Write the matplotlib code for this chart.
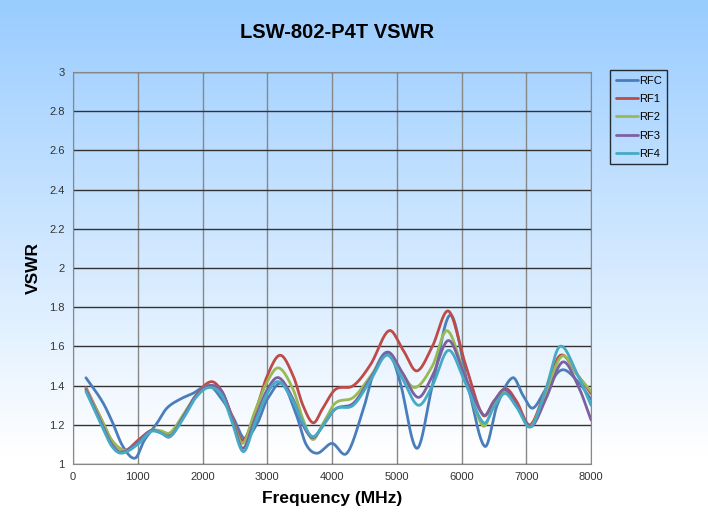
import numpy as np
import matplotlib
matplotlib.use('Agg')
import matplotlib.pyplot as plt

# значения (частота МГц, КСВН)
rfc_f = [200, 450, 600, 770, 960, 1100, 1300, 1450, 1650, 1850, 2100, 2300, 2470, 2650, 2850, 3000,
         3230, 3450, 3600, 3770, 4000, 4230, 4480, 4650, 4870, 5050, 5310, 5550, 5830, 6100, 6360,
         6550, 6790, 6950, 7100, 7300, 7550, 7800, 8000]
rfc_v = [1.44, 1.32, 1.22, 1.09, 1.03, 1.12, 1.21, 1.285, 1.33, 1.36, 1.40, 1.33, 1.24, 1.13, 1.21, 1.33,
         1.41, 1.25, 1.10, 1.055, 1.105, 1.055, 1.275, 1.47, 1.57, 1.42, 1.08, 1.40, 1.76, 1.40, 1.09,
         1.30, 1.44, 1.35, 1.285, 1.38, 1.48, 1.42, 1.33]

rf1_f = [200, 450, 600, 800, 1000, 1200, 1350, 1500, 1700, 1900, 2130, 2300, 2450, 2620, 2800, 3000,
         3200, 3400, 3550, 3710, 3850, 4050, 4330, 4600, 4880, 5100, 5310, 5550, 5800, 6050, 6330,
         6500, 6680, 6850, 7060, 7300, 7530, 7800, 8000]
rf1_v = [1.39, 1.22, 1.12, 1.07, 1.12, 1.17, 1.165, 1.15, 1.24, 1.35, 1.42, 1.37, 1.25, 1.12, 1.25, 1.45,
         1.555, 1.45, 1.30, 1.21, 1.28, 1.38, 1.40, 1.51, 1.68, 1.58, 1.475, 1.60, 1.78, 1.52, 1.25,
         1.32, 1.385, 1.32, 1.20, 1.38, 1.555, 1.45, 1.36]

rf2_f = [200, 450, 600, 800, 1000, 1200, 1350, 1500, 1700, 1900, 2100, 2300, 2450, 2620, 2800, 3000,
         3180, 3400, 3550, 3700, 3850, 4050, 4330, 4600, 4850, 5050, 5280, 5550, 5780, 6050, 6330,
         6500, 6650, 6850, 7060, 7300, 7550, 7800, 8000]
rf2_v = [1.385, 1.22, 1.12, 1.07, 1.11, 1.17, 1.17, 1.16, 1.25, 1.35, 1.40, 1.36, 1.24, 1.105, 1.26, 1.42,
         1.49, 1.38, 1.23, 1.125, 1.20, 1.31, 1.34, 1.45, 1.56, 1.48, 1.39, 1.50, 1.68, 1.45, 1.195,
         1.30, 1.37, 1.30, 1.19, 1.36, 1.55, 1.45, 1.37]

rf3_f = [200, 450, 600, 750, 1000, 1200, 1350, 1500, 1700, 1900, 2100, 2300, 2450, 2620, 2800, 3000,
         3180, 3400, 3550, 3700, 3850, 4050, 4330, 4600, 4860, 5080, 5330, 5550, 5800, 6050, 6340,
         6500, 6670, 6850, 7070, 7300, 7560, 7800, 8000]
rf3_v = [1.38, 1.20, 1.10, 1.06, 1.11, 1.17, 1.16, 1.14, 1.24, 1.35, 1.40, 1.37, 1.24, 1.08, 1.22, 1.38,
         1.44, 1.33, 1.20, 1.135, 1.19, 1.28, 1.31, 1.44, 1.57, 1.47, 1.34, 1.45, 1.63, 1.45, 1.25,
         1.32, 1.38, 1.30, 1.19, 1.33, 1.52, 1.40, 1.225]

rf4_f = [200, 450, 600, 750, 1000, 1200, 1350, 1500, 1700, 1900, 2100, 2300, 2450, 2630, 2800, 3000,
         3180, 3400, 3550, 3700, 3850, 4050, 4330, 4600, 4850, 5080, 5330, 5550, 5800, 6050, 6340,
         6500, 6670, 6850, 7070, 7300, 7520, 7800, 8000]
rf4_v = [1.37, 1.19, 1.09, 1.055, 1.10, 1.165, 1.16, 1.14, 1.23, 1.34, 1.39, 1.35, 1.22, 1.063, 1.20, 1.36,
         1.42, 1.32, 1.21, 1.14, 1.19, 1.28, 1.30, 1.43, 1.555, 1.44, 1.30, 1.40, 1.58, 1.42, 1.21,
         1.29, 1.36, 1.29, 1.19, 1.38, 1.60, 1.45, 1.30]

names = ['RFC', 'RF1', 'RF2', 'RF3', 'RF4']
colors = ['#4A7EBB', '#BE4B48', '#98B954', '#7D60A0', '#46AAC5']

x_ticks = [0, 1000, 2000, 3000, 4000, 5000, 6000, 7000, 8000]
y_ticks = [1, 1.2, 1.4, 1.6, 1.8, 2, 2.2, 2.4, 2.6, 2.8, 3]


def smooth(xs, ys, n=24):
    # сглаженная линия как в Excel (кубический сплайн Катмулла-Рома)
    xs = np.asarray(xs, float)
    ys = np.asarray(ys, float)
    h = np.diff(xs)
    m = np.zeros_like(ys)
    m[1:-1] = (ys[2:] - ys[:-2]) / (xs[2:] - xs[:-2])
    m[0] = (ys[1] - ys[0]) / h[0]
    m[-1] = (ys[-1] - ys[-2]) / h[-1]
    ox, oy = [], []
    for i in range(len(xs) - 1):
        t = np.linspace(0, 1, n, endpoint=False)
        h00 = 2 * t**3 - 3 * t**2 + 1
        h10 = t**3 - 2 * t**2 + t
        h01 = -2 * t**3 + 3 * t**2
        h11 = t**3 - t**2
        ox.extend(xs[i] + t * h[i])
        oy.extend(h00 * ys[i] + h10 * h[i] * m[i] + h01 * ys[i + 1] + h11 * h[i] * m[i + 1])
    ox.append(xs[-1])
    oy.append(ys[-1])
    return ox, oy


fig = plt.figure(figsize=(7.08, 5.17), dpi=100)
plt.rcParams['font.family'] = ['Liberation Sans', 'DejaVu Sans']

# фон с градиентом
bg = fig.add_axes([0, 0, 1, 1], zorder=-10)
grad = np.linspace(0, 1, 256).reshape(-1, 1)
top = np.array([0.60, 0.80, 1.0])
col = top + (1 - top) * np.clip(grad / 0.88, 0, 1)
bg.imshow(col.reshape(256, 1, 3), aspect='auto', extent=[0, 1, 0, 1], origin='upper')
bg.axis('off')

ax = fig.add_axes([73 / 708, 1 - 464 / 517, (591 - 73) / 708, (464 - 72) / 517])
ax.patch.set_alpha(0)

series = [(rfc_f, rfc_v), (rf1_f, rf1_v), (rf2_f, rf2_v), (rf3_f, rf3_v), (rf4_f, rf4_v)]
for (f, v), nm, c in zip(series, names, colors):
    sx, sy = smooth(f, v)
    ax.plot(sx, sy, color=c, lw=2.0, label=nm, solid_capstyle='round')

ax.set_xlim(0, 8000)
ax.set_ylim(1, 3)
ax.set_xticks(x_ticks)
ax.set_yticks(y_ticks)
ax.set_yticklabels(['%g' % t for t in y_ticks])
ax.tick_params(labelsize=8, colors='#333333', length=0, pad=6)
ax.grid(axis='y', color='#333333', lw=1.0)
ax.grid(axis='x', color='#888888', lw=1.0)
ax.set_axisbelow(True)
for s in ax.spines.values():
    s.set_color('#888888')

ax.set_xlabel('Frequency (MHz)', fontsize=12.5, fontweight='bold', labelpad=6)
ax.set_ylabel('VSWR', fontsize=12.5, fontweight='bold', labelpad=6)
fig.text(337 / 708, 1 - 33 / 517, 'LSW-802-P4T VSWR', fontsize=14.5, fontweight='bold',
         ha='center', va='center')

leg = fig.legend(loc='upper left', bbox_to_anchor=(610 / 708, 1 - 70 / 517), fontsize=8,
                 handlelength=2.0, handletextpad=0.1, labelspacing=0.75, borderpad=0.5,
                 borderaxespad=0, fancybox=False, edgecolor='black')
leg.get_frame().set_facecolor('none')
leg.get_frame().set_linewidth(1.0)

fig.savefig('out.png', dpi=100)
